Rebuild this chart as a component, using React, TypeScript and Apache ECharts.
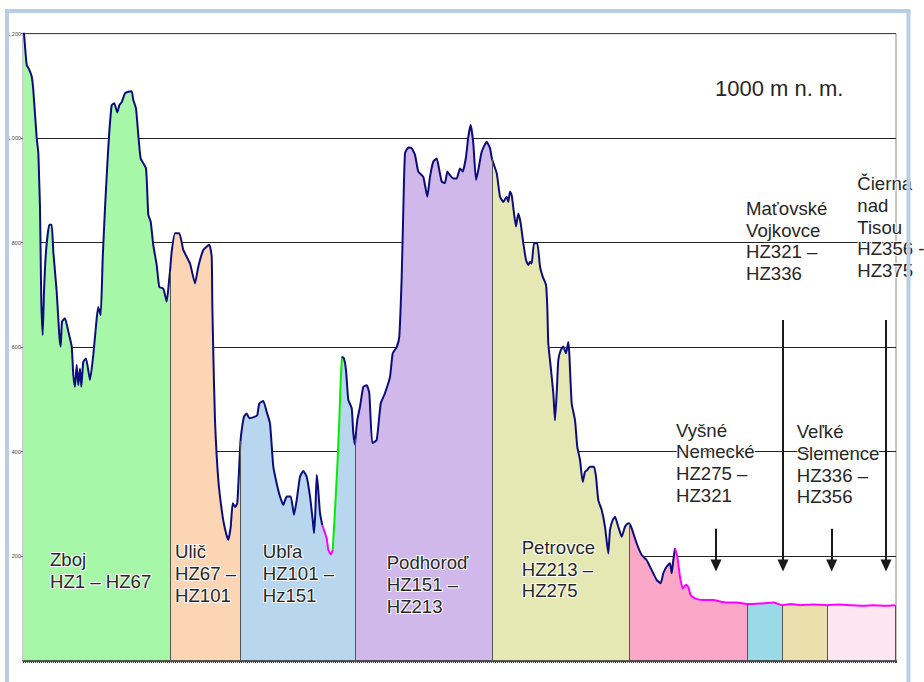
import React, { useEffect, useRef } from "react";
import * as echarts from "echarts";

// ---------- DATA ----------
const yTicks = [0, 200, 400, 600, 800, 1000, 1200];

// elevation profile: [distance index, metres a.s.l.]
const profile: [number, number][] = [
  [0, 1215], [1, 1200], [3.7, 1140], [6, 1132], [8.7, 1118], [10.3, 1092], [13.7, 1000], [15.3, 972], [16.5, 900], [17, 866],
  [17.7, 770], [18.3, 687], [19.7, 623], [21, 706], [23, 783], [26.3, 834], [28.7, 834], [30.3, 783], [33.7, 706], [36.3, 623],
  [37.7, 601], [39, 649], [42, 655], [45.3, 630], [48.7, 601], [50.3, 547], [52, 524], [53.7, 566], [55.3, 527], [57, 559],
  [58.3, 524], [60.3, 572], [63, 578], [67, 537], [70.3, 585], [73.7, 655], [75.3, 677], [77.7, 661], [79.7, 770], [82, 866],
  [84.3, 949], [86.3, 1012], [88.7, 1063], [91.3, 1067], [94.3, 1049], [96.3, 1063], [98.7, 1069], [102, 1086], [105.3, 1089],
  [108.7, 1090], [110.3, 1073], [113, 1057], [115.3, 1006], [117.7, 961], [123, 942], [125.3, 853], [127.7, 840], [130.3, 795],
  [133.7, 757], [136.3, 715], [140.3, 712], [143.7, 687], [146.3, 732], [147, 745], [148.7, 783], [152, 818], [156.3, 818],
  [160.3, 786], [167, 760], [172, 722], [175.3, 754], [180.3, 786], [186.3, 796], [188.7, 773], [189.3, 684], [190.3, 588],
  [192, 460], [195.3, 346], [199.7, 275], [203, 244], [205.3, 231], [207.7, 256], [209.7, 301], [212, 294], [214.3, 301],
  [217, 403], [217.5, 420], [218.7, 441], [221, 467], [223.7, 473], [226.3, 464], [232, 467], [234.3, 470], [236.3, 492],
  [240.3, 497], [243.7, 476], [247, 454], [250.3, 371], [253.7, 339], [257, 314], [260.3, 298], [263.7, 314], [267.7, 314],
  [271, 279], [273.7, 307], [277, 352], [280.3, 363], [283.7, 352], [287, 314], [289.7, 269], [291, 244], [292.3, 282],
  [293.7, 355], [295, 333], [297, 282], [299.3, 259], [302, 244], [303.7, 234], [305.3, 212], [308, 203], [309.7, 212],
  [312, 288], [314.3, 371], [316.3, 460], [317.7, 537], [319, 582], [321, 578], [323, 556], [325.3, 499], [328.7, 483],
  [330.3, 435], [332, 413], [332.5, 425], [334.3, 460], [337, 486], [340.3, 524], [343.7, 527], [346.3, 512], [349.3, 416],
  [353.7, 422], [357.7, 492], [362, 512], [367, 543], [369.7, 588], [373.7, 600], [376.3, 620], [378.7, 735], [380.3, 862],
  [382, 971], [385.3, 982], [388.7, 981], [392, 968], [395.3, 936], [400.3, 926], [404.3, 888], [407, 926], [410.3, 955],
  [413.7, 961], [416.3, 939], [418.7, 917], [422, 914], [424.3, 936], [427, 929], [430.3, 923], [433.7, 923], [437, 942],
  [439.7, 936], [443, 964], [445.3, 1003], [447.7, 1025], [450.3, 990], [453, 920], [455.3, 939], [458.7, 974], [463.7, 993],
  [467, 981], [469, 960], [473.7, 933], [477, 888], [480.3, 878], [483.7, 888], [485.3, 878], [487, 898], [488.7, 891],
  [491, 856], [493, 831], [495.3, 856], [497.7, 837], [500.3, 799], [503, 767], [505.3, 757], [507, 763], [508.7, 760],
  [511, 799], [514.3, 799], [517, 754], [519.7, 735], [523, 719], [524.3, 677], [525.3, 607], [527.7, 562], [530.3, 512],
  [532, 460], [533.7, 512], [535.3, 575], [537.7, 594], [540.3, 601], [543, 588], [545.3, 610], [546.3, 588], [548.7, 492],
  [552, 460], [554.3, 409], [557, 384], [559.7, 342], [562, 361], [564.3, 365], [567, 371], [571, 371], [573, 352],
  [575.3, 307], [578.7, 288], [582, 256], [585.3, 205], [587, 250], [589.7, 269], [592, 275], [595.3, 256], [598.7, 237],
  [602, 256], [605.3, 263], [606.5, 262], [608.7, 253], [613.7, 224], [618.7, 202], [623.7, 192], [628.7, 173], [633.7, 154],
  [637.7, 148], [640.3, 167], [643.7, 180], [647, 186], [648.7, 167], [650.3, 192], [652, 215], [654.3, 199], [657, 160],
  [659.7, 138], [663, 145], [665.3, 141], [667.7, 125], [672, 119], [680.3, 116], [690.3, 116], [697, 113], [703.7, 111],
  [713.7, 111], [724, 108], [737, 109], [750.3, 111], [759.5, 106], [768, 108], [777, 106], [790, 107], [804, 106],
  [815, 107], [827, 106], [840, 105], [850.3, 106], [862, 105], [872, 106],
];

// section boundaries (distance index) and names
const sectionBounds = [0, 147, 217.5, 332.5, 469, 606.5, 724, 759.5, 804, 872];
const sectionLabels = [
  "Zboj\nHZ1 – HZ67",
  "Ulič\nHZ67 –\nHZ101",
  "Ubľa\nHZ101 –\nHz151",
  "Podhoroď\nHZ151 –\nHZ213",
  "Petrovce\nHZ213 –\nHZ275",
  "Vyšné\nNemecké\nHZ275 –\nHZ321",
  "Maťovské\nVojkovce\nHZ321 –\nHZ336",
  "Veľké\nSlemence\nHZ336 –\nHZ356",
  "Čierna\nnad\nTisou\nHZ356 -\nHZ375",
];
const titleText = "1000 m n. m.";

// profile line pieces (distance ranges)
const linePieces: [number, number][] = [[0, 299.3], [299.3, 309.7], [309.7, 319], [319, 652], [652, 872]];

// arrows marking stations (distance, top elevation, end elevation)
const arrowX = [693, 760, 808.7, 863];
const arrowTop = [252, 652, 252, 652];
const arrowEnd = 182;

// ---------- STYLES / LAYOUT ----------
const sectionColors = ["#a6f8a8", "#fcd5b5", "#b8d7ee", "#d0b9ea", "#e6e8b4", "#fba8c8", "#9ad9e8", "#ebe0ad", "#fde6ef"];
const pieceColors = ["#0c0c7c", "#ff00ff", "#00ee00", "#0c0c7c", "#ff00ff"];
const labelPos: [number, number][] = [
  [50, 549], [175, 541], [262.7, 541], [386.7, 552], [521.7, 536.7],
  [676, 419.3], [746, 197.7], [796.7, 421], [857.3, 173],
];
const FONT = "'Liberation Sans', Arial, Helvetica, sans-serif";
const SMOOTH = 0.15;

function slice(a: number, b: number) {
  return profile.filter((p) => p[0] >= a && p[0] <= b);
}
function elevAt(x: number) {
  const p = profile.find((q) => q[0] === x);
  return p ? p[1] : 0;
}

export default function App() {
  const ref = useRef<HTMLDivElement>(null);
  useEffect(() => {
    if (!ref.current) return;
    const chart = echarts.init(ref.current, null, { renderer: "svg" });

    const series: any[] = [];
    sectionColors.forEach((c, i) => {
      series.push({
        type: "line",
        data: slice(sectionBounds[i], sectionBounds[i + 1]),
        symbol: "none",
        smooth: SMOOTH,
        lineStyle: { width: 0 },
        areaStyle: { color: c, opacity: 1 },
        z: 2,
        silent: true,
      });
    });
    // dividers
    series.push({
      type: "line",
      data: [],
      symbol: "none",
      z: 3,
      silent: true,
      markLine: {
        silent: true,
        symbol: ["none", "none"],
        label: { show: false },
        lineStyle: { color: "#555", width: 1, type: "solid" },
        data: sectionBounds.slice(1).map((b) => [{ coord: [b, 0] }, { coord: [b, elevAt(b)] }]),
      },
    });
    linePieces.forEach((pc, i) => {
      series.push({
        type: "line",
        data: slice(pc[0], pc[1]),
        symbol: "none",
        smooth: SMOOTH,
        lineStyle: { color: pieceColors[i], width: 2 },
        z: 4,
        silent: true,
      });
    });
    // arrows
    series.push({
      type: "line",
      data: [],
      symbol: "none",
      z: 5,
      silent: true,
      markLine: {
        silent: true,
        symbol: ["none", "triangle"],
        symbolSize: [11, 12],
        label: { show: false },
        lineStyle: { color: "#1a1a1a", width: 2, type: "solid" },
        itemStyle: { color: "#1a1a1a" },
        data: arrowX.map((x, i) => [{ coord: [x, arrowTop[i]] }, { coord: [x, arrowEnd] }]),
      },
    });

    const graphics: any[] = sectionLabels.map((t, i) => ({
      type: "text",
      x: labelPos[i][0],
      y: labelPos[i][1],
      z: 50,
      style: {
        text: t,
        fontSize: 18.6,
        fontFamily: FONT,
        lineHeight: 21.7,
        fill: "#262626",
        stroke: "#ffffff",
        lineWidth: 2,
        strokeFirst: true,
        textVerticalAlign: "top",
      },
    }));
    graphics.push({
      type: "text",
      x: 715,
      y: 75.5,
      z: 50,
      style: {
        text: titleText,
        fontSize: 22,
        fontFamily: FONT,
        lineHeight: 26,
        fill: "#262626",
        textVerticalAlign: "top",
      },
    });
    graphics.push({
      type: "rect",
      z: 100,
      shape: { x: 7, y: 11, width: 901.5, height: 700 },
      style: { fill: "none", stroke: "#b9cde5", lineWidth: 4 },
    });

    chart.setOption({
      animation: false,
      backgroundColor: "#ffffff",
      grid: {
        left: 23,
        right: 28,
        top: 33.7,
        bottom: 21.5,
        show: true,
        borderColor: "#8a8a8a",
        borderWidth: 1,
        backgroundColor: "transparent",
      },
      xAxis: {
        type: "value",
        min: 0,
        max: 873,
        interval: 2,
        axisLabel: { show: false },
        axisLine: { show: true, onZero: false, lineStyle: { color: "#222", width: 1.5 } },
        axisTick: { show: true, length: 2.5, lineStyle: { color: "#444", width: 1 } },
        splitLine: { show: false },
      },
      yAxis: {
        type: "value",
        min: yTicks[0],
        max: yTicks[yTicks.length - 1],
        interval: 200,
        axisLabel: { fontSize: 5.5, color: "#444", margin: 2, showMinLabel: false, fontFamily: FONT },
        axisLine: { show: true, lineStyle: { color: "#888", width: 1 } },
        axisTick: { show: true, length: 2, lineStyle: { color: "#666" } },
        splitLine: {
          show: true,
          lineStyle: { color: ["#222", "#222", "#222", "#222", "#222", "#222", "#444"], width: 1 },
        },
      },
      series,
      graphic: graphics,
    });
    return () => chart.dispose();
  }, []);
  return (
    <div
      ref={ref}
      style={{ position: "fixed", left: 0, top: 0, width: 924, height: 682, background: "#fff" }}
    />
  );
}
